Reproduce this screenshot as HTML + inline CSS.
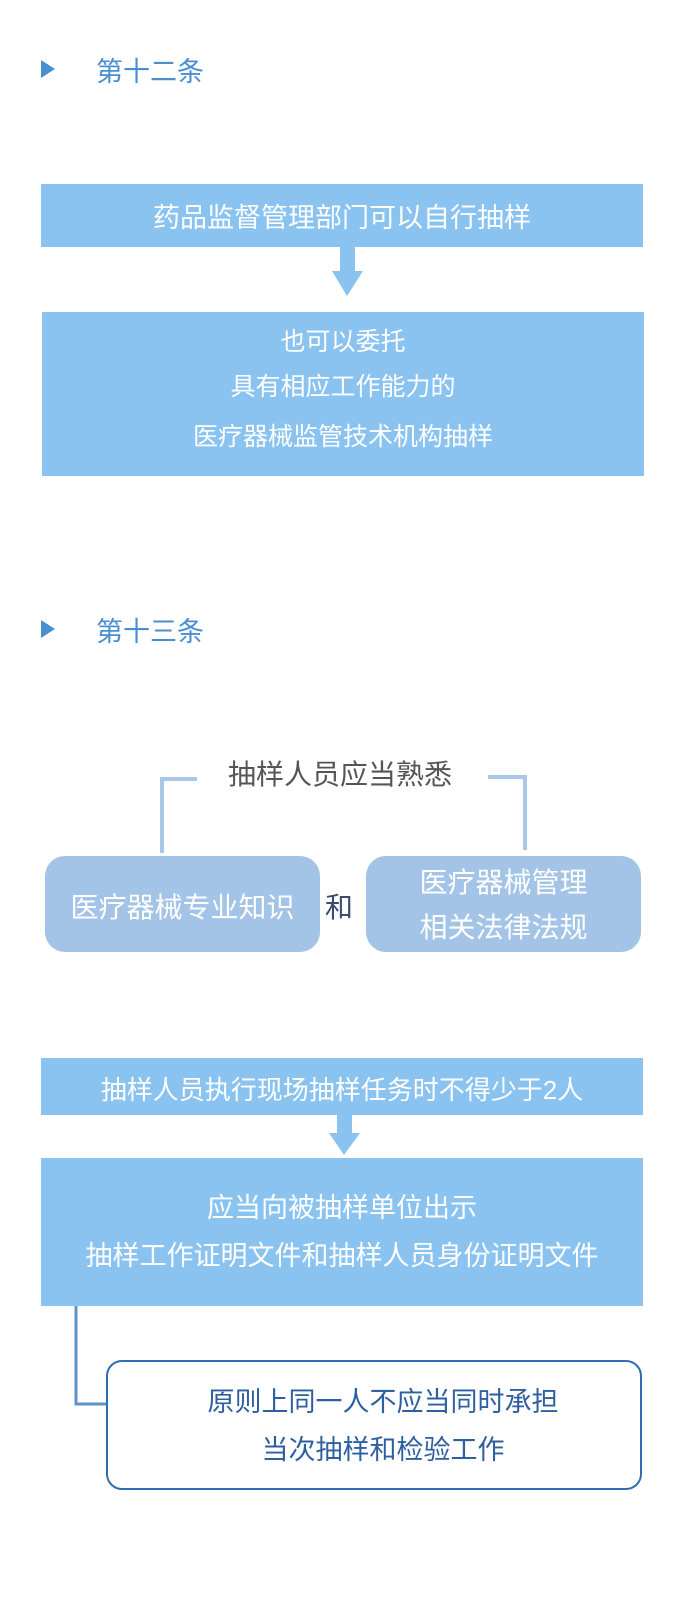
<!DOCTYPE html>
<html><head><meta charset="utf-8"><style>
body{margin:0;width:700px;height:1607px;background:#fff;position:relative;font-family:"Liberation Sans","Noto Sans CJK SC",sans-serif;overflow:hidden}
.a{position:absolute;line-height:1;white-space:nowrap}
.box{position:absolute;background:#8ac3f0;color:#fff;text-align:center}
.t{position:absolute;left:0;width:100%;text-align:center;white-space:nowrap;line-height:1}
</style></head><body>
<svg class="a" style="left:0;top:0" width="700" height="1607">
<polygon points="41,60 41,78 55,69" fill="#4a8fd0"/>
<polygon points="41,620 41,638 55,629" fill="#4a8fd0"/>
<rect x="340" y="247" width="15" height="26" fill="#8ac3f0"/>
<polygon points="332,271 363,271 347,296" fill="#8ac3f0"/>
<rect x="337" y="1115" width="15" height="20" fill="#8ac3f0"/>
<polygon points="329,1133 360,1133 344,1155" fill="#8ac3f0"/>
<polyline points="197,779 162,779 162,853" fill="none" stroke="#a9c8e8" stroke-width="4"/>
<polyline points="488,777 525,777 525,850" fill="none" stroke="#a9c8e8" stroke-width="4"/>
<polyline points="76,1306 76,1404 108,1404" fill="none" stroke="#5b93cc" stroke-width="3"/>
</svg>
<div class="a" style="left:96px;top:59px;font-size:27px;color:#4a8fd0">第十二条</div>
<div class="a" style="left:96px;top:619px;font-size:27px;color:#4a8fd0">第十三条</div>
<div class="box" style="left:41px;top:184px;width:602px;height:63px"><div class="t" style="top:21px;font-size:27px">药品监督管理部门可以自行抽样</div></div>
<div class="box" style="left:42px;top:312px;width:602px;height:164px">
<div class="t" style="top:18px;font-size:25px">也可以委托</div>
<div class="t" style="top:63px;font-size:25px">具有相应工作能力的</div>
<div class="t" style="top:113px;font-size:25px">医疗器械监管技术机构抽样</div></div>
<div class="a" style="left:228px;top:761px;font-size:28px;color:#555">抽样人员应当熟悉</div>
<div class="box" style="left:45px;top:856px;width:275px;height:96px;background:#a3c4e6;border-radius:20px"><div class="t" style="top:38px;font-size:28px">医疗器械专业知识</div></div>
<div class="a" style="left:325px;top:894px;font-size:28px;color:#3a4a70">和</div>
<div class="box" style="left:366px;top:856px;width:275px;height:96px;background:#a3c4e6;border-radius:20px">
<div class="t" style="top:13px;font-size:28px">医疗器械管理</div>
<div class="t" style="top:58px;font-size:28px">相关法律法规</div></div>
<div class="box" style="left:41px;top:1058px;width:602px;height:57px"><div class="t" style="top:19px;font-size:26px">抽样人员执行现场抽样任务时不得少于2人</div></div>
<div class="box" style="left:41px;top:1158px;width:602px;height:148px">
<div class="t" style="top:37px;font-size:27px">应当向被抽样单位出示</div>
<div class="t" style="top:85px;font-size:27px">抽样工作证明文件和抽样人员身份证明文件</div></div>
<div class="a" style="left:106px;top:1360px;width:532px;height:126px;border:2.5px solid #2e6db0;border-radius:16px;background:#fff">
<div class="t" style="top:27px;left:9px;font-size:27px;color:#2e5fa0">原则上同一人不应当同时承担</div>
<div class="t" style="top:75px;left:9px;font-size:27px;color:#2e5fa0">当次抽样和检验工作</div></div>
</body></html>
